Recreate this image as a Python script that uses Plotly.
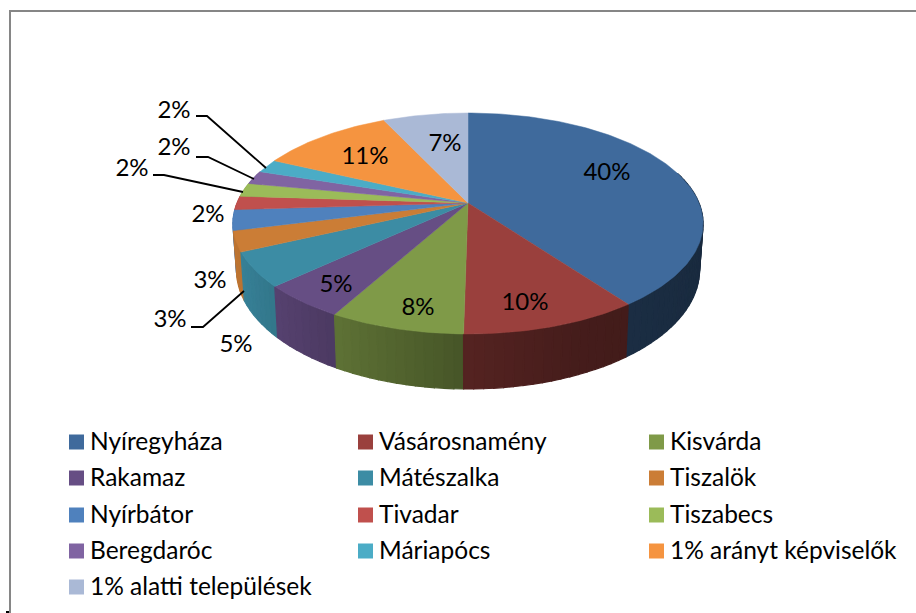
import math
import plotly.graph_objects as go

categories = ["Nyíregyháza", "Vásárosnamény", "Kisvárda", "Rakamaz", "Mátészalka", "Tiszalök",
              "Nyírbátor", "Tivadar", "Tiszabecs", "Beregdaróc", "Máriapócs",
              "1% arányt képviselők", "1% alatti települések"]
values = [40, 10.3, 7.8, 5, 5, 3, 3, 2, 2, 2, 2, 11, 7]
top_colors = ["#3F6A9C", "#9A403D", "#7F9A48", "#664E84", "#3C8CA4", "#CB7D36", "#4F81BD",
              "#C0504D", "#9BBB59", "#8064A2", "#4BACC6", "#F59440", "#AAB9D6"]

# Layout constants (pixel space of the photographed page)
W, H = 916, 613
CX, CY, A, B, P, DEPTH = 468, 203, 231, 106.7, 0.1855, 55
label_pos = [(607, 174), (525, 304), (418, 309), (336, 286), (236, 346), (170, 321), (210, 282),
             (208, 216), (132, 170), (174, 149), (174, 112), (365, 158), (445, 145)]
leaders = [[(196, 116), (207, 116), (266, 168)],
           [(196, 157), (208, 157), (254, 179)],
           [(153, 175), (164, 175), (243, 192)],
           [(191, 327), (203, 327), (244, 291)]]
legend_cols = [(76.5, 90), (365.5, 379), (656.5, 670)]
legend_rows = [444, 480, 517, 553, 589]
marker_rows = [442, 478, 515, 551, 587]
FONT = "Lato"
FS_LABEL, FS_LEGEND = 24, 24.5


def project(theta, drop=False):
    u, v = math.sin(theta), -math.cos(theta)
    w = 1 - P * v
    x = A * u / w
    y = CY + B * v / w
    if drop:
        x *= 0.985
        y += DEPTH * (1 - P) / w
    return CX + x, y


def shade(hexcol, f):
    r, g, b = (int(hexcol[i:i + 2], 16) for i in (1, 3, 5))
    return f"rgb({int(r * f)},{int(g * f)},{int(b * f)})"


def wall_factor(u):
    pts = [(-1.0, 0.95), (-0.9, 0.92), (-0.5, 0.75), (0.0, 0.55), (0.4, 0.45), (1.0, 0.40)]
    for (a, fa), (b, fb) in zip(pts, pts[1:]):
        if a <= u <= b:
            return fa + (fb - fa) * (u - a) / (b - a)
    return 0.4


fig = go.Figure()
total = sum(values)
bounds = [0]
for val in values:
    bounds.append(bounds[-1] + val / total * 2 * math.pi)

# Side walls, back to front
walls = []
for i in range(len(values)):
    t0, t1 = bounds[i], bounds[i + 1]
    n = max(1, int((t1 - t0) / math.radians(2)))
    for k in range(n):
        a = t0 + (t1 - t0) * k / n
        b = t0 + (t1 - t0) * (k + 1) / n
        walls.append((-math.cos((a + b) / 2), a, b, i))
for v, a, b, i in sorted(walls):
    if v < -0.3:
        continue
    steps = [a, (a + b) / 2, b]
    upper = [project(t) for t in steps]
    lower = [project(t, True) for t in reversed(steps)]
    poly = upper + lower + upper[:1]
    col = shade(top_colors[i], wall_factor(math.sin((a + b) / 2)))
    fig.add_trace(go.Scatter(x=[p[0] for p in poly], y=[p[1] for p in poly], mode="lines",
                             fill="toself", fillcolor=col, line=dict(color=col, width=1.2),
                             hoverinfo="skip", showlegend=False))

# Top faces
for i in range(len(values)):
    t0, t1 = bounds[i], bounds[i + 1]
    n = max(4, int((t1 - t0) / math.radians(1)))
    arc = [project(t0 + (t1 - t0) * k / n) for k in range(n + 1)]
    poly = [(CX, CY)] + arc + [(CX, CY)]
    fig.add_trace(go.Scatter(x=[p[0] for p in poly], y=[p[1] for p in poly], mode="lines",
                             fill="toself", fillcolor=top_colors[i],
                             line=dict(color=top_colors[i], width=0.5),
                             name=categories[i], showlegend=False, hoverinfo="name"))

# Leader lines
for ln in leaders:
    fig.add_trace(go.Scatter(x=[p[0] for p in ln], y=[p[1] for p in ln], mode="lines",
                             line=dict(color="#000000", width=1.8), hoverinfo="skip", showlegend=False))

# Data labels
fig.add_trace(go.Scatter(x=[p[0] for p in label_pos], y=[p[1] for p in label_pos], mode="text",
                         text=[f"{round(val)}%" for val in values], textposition="middle center",
                         textfont=dict(family=FONT, size=FS_LABEL, color="#000000"),
                         hoverinfo="skip", showlegend=False))

# Legend (three-column grid as in the reference)
for i, name in enumerate(categories):
    mx, tx = legend_cols[i % 3]
    fig.add_trace(go.Scatter(x=[mx], y=[marker_rows[i // 3]], mode="markers",
                             marker=dict(symbol="square", size=15, color=top_colors[i]),
                             hoverinfo="skip", showlegend=False))
    fig.add_trace(go.Scatter(x=[tx], y=[legend_rows[i // 3]], mode="text", text=[name],
                             textposition="middle right",
                             textfont=dict(family=FONT, size=FS_LEGEND, color="#000000"),
                             hoverinfo="skip", showlegend=False))

shapes = [
    dict(type="line", x0=10, x1=W, y0=11, y1=11, line=dict(color="#868686", width=2)),
    dict(type="line", x0=10, x1=10, y0=10, y1=H, line=dict(color="#868686", width=2)),
    dict(type="line", x0=6, x1=9, y0=612, y1=612, line=dict(color="#000000", width=2)),
]
fig.update_layout(width=W, height=H, margin=dict(l=0, r=0, t=0, b=0), paper_bgcolor="#FFFFFF",
                  plot_bgcolor="#FFFFFF", shapes=shapes,
                  xaxis=dict(range=[0, W], visible=False, fixedrange=True),
                  yaxis=dict(range=[H, 0], visible=False, fixedrange=True))
fig.write_html("out.html", config={"displayModeBar": False},
               post_script="document.body.style.margin='0';document.documentElement.style.overflow='hidden';")
